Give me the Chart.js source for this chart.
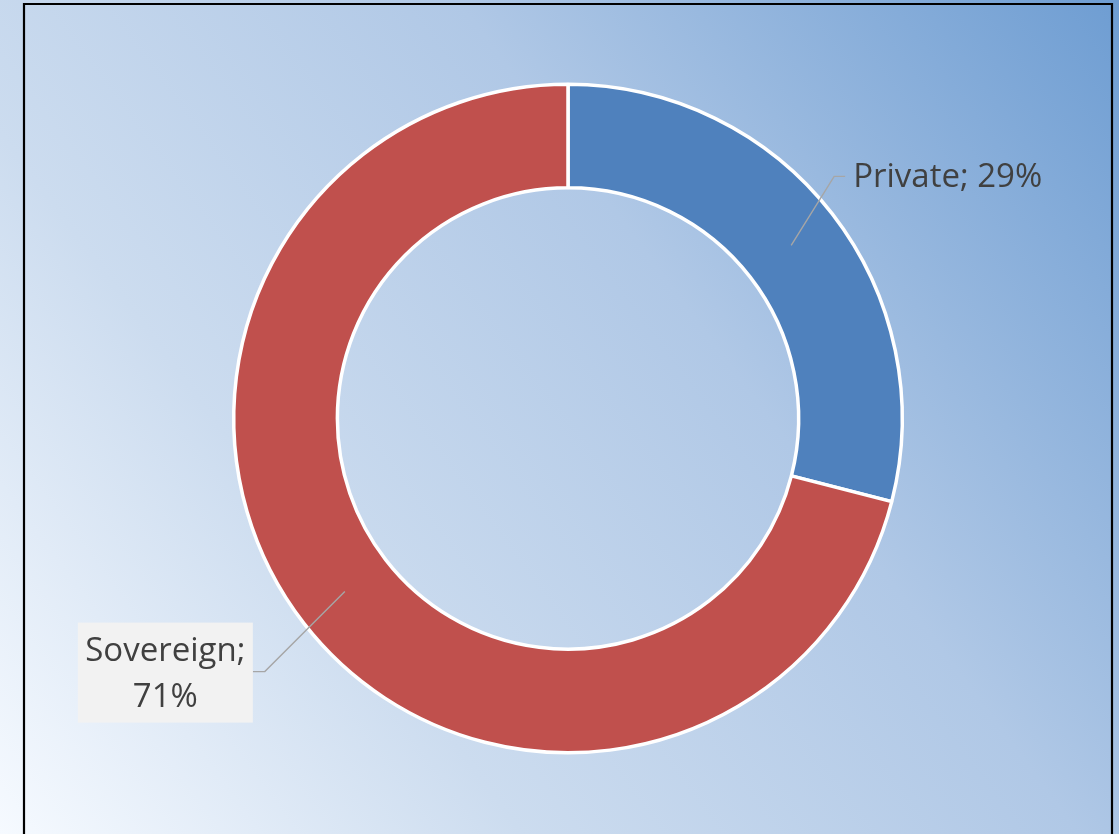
<!DOCTYPE html>
<html>
<head>
<meta charset="utf-8">
<script src="https://cdn.jsdelivr.net/npm/chart.js@4/dist/chart.umd.min.js"></script>
<style>
  html, body { margin: 0; padding: 0; overflow: hidden; background: #fff; }
  #wrap { width: 1119px; height: 834px; position: relative; }
</style>
</head>
<body>
<div id="wrap"><canvas id="c" width="1119" height="834"></canvas></div>
<script>
// ---- data ----
const categories = ['Private', 'Sovereign'];
const shares = [29, 71];
const sliceColors = ['#4F81BD', '#C0504D'];

// ---- style constants (label layout) ----
const labelOffsets = [ { dx: 43, dy: -69, side: 'right' }, { dx: -80, dy: 80, side: 'left' } ];
const FONT_FAMILY = '"Open Sans", "Noto Sans", sans-serif';
const FONT_SIZE = 33;

const bgPlugin = {
  id: 'bg',
  beforeDraw(chart) {
    const ctx = chart.ctx, w = chart.width, h = chart.height;
    ctx.save();
    const g = ctx.createLinearGradient(0, h, w, 0);
    g.addColorStop(0, '#F6FAFF');
    g.addColorStop(0.3, '#CCDCEF');
    g.addColorStop(0.62, '#B0C8E6');
    g.addColorStop(1, '#6E9DD2');
    ctx.fillStyle = g;
    ctx.fillRect(0, 0, w, h);
    // frame
    ctx.strokeStyle = '#000';
    ctx.lineWidth = 2.2;
    ctx.beginPath();
    ctx.moveTo(24, h + 5);
    ctx.lineTo(24, 4);
    ctx.lineTo(1112, 4);
    ctx.lineTo(1112, h + 5);
    ctx.stroke();
    ctx.restore();
  }
};

const labelPlugin = {
  id: 'labels',
  afterDatasetsDraw(chart) {
    const ctx = chart.ctx;
    const meta = chart.getDatasetMeta(0);
    const total = shares.reduce((a, b) => a + b, 0);
    ctx.save();
    ctx.font = FONT_SIZE + 'px ' + FONT_FAMILY;
    meta.data.forEach((arc, i) => {
      const p = arc.getProps(['x', 'y', 'startAngle', 'endAngle', 'innerRadius', 'outerRadius'], true);
      const mid = (p.startAngle + p.endAngle) / 2;
      const r = (p.innerRadius + p.outerRadius) / 2;
      const ax = p.x + Math.cos(mid) * r;
      const ay = p.y + Math.sin(mid) * r;
      const off = labelOffsets[i];
      const ex = ax + off.dx, ey = ay + off.dy;
      const pct = Math.round(shares[i] / total * 100) + '%';
      ctx.strokeStyle = '#A6A6A6';
      ctx.lineWidth = 1.4;
      ctx.beginPath();
      ctx.moveTo(ax, ay);
      ctx.lineTo(ex, ey);
      if (off.side === 'right') {
        ctx.lineTo(ex + 11, ey);
        ctx.stroke();
        ctx.fillStyle = '#404040';
        ctx.textAlign = 'left';
        ctx.textBaseline = 'middle';
        ctx.fillText(categories[i] + '; ' + pct, ex + 19, ey + 1);
      } else {
        ctx.lineTo(ex - 12, ey);
        ctx.stroke();
        const bw = 175, bh = 100;
        const bx = ex - 12 - bw, by = ey - bh / 2 + 1;
        ctx.fillStyle = '#F2F2F2';
        ctx.fillRect(bx, by, bw, bh);
        ctx.fillStyle = '#404040';
        ctx.textAlign = 'center';
        ctx.textBaseline = 'middle';
        ctx.fillText(categories[i] + ';', bx + bw / 2, by + 29);
        ctx.fillText(pct, bx + bw / 2, by + 75);
      }
    });
    ctx.restore();
  }
};

new Chart(document.getElementById('c'), {
  type: 'doughnut',
  data: {
    labels: categories,
    datasets: [{
      data: shares,
      backgroundColor: sliceColors,
      borderColor: '#FFFFFF',
      borderWidth: 3.5,
      hoverOffset: 0
    }]
  },
  options: {
    responsive: false,
    animation: false,
    cutout: '69%',
    layout: { padding: { top: 82.5, bottom: 79.5, left: 232, right: 215 } },
    plugins: { legend: { display: false }, tooltip: { enabled: false } },
    events: []
  },
  plugins: [bgPlugin, labelPlugin]
});
</script>
</body>
</html>
